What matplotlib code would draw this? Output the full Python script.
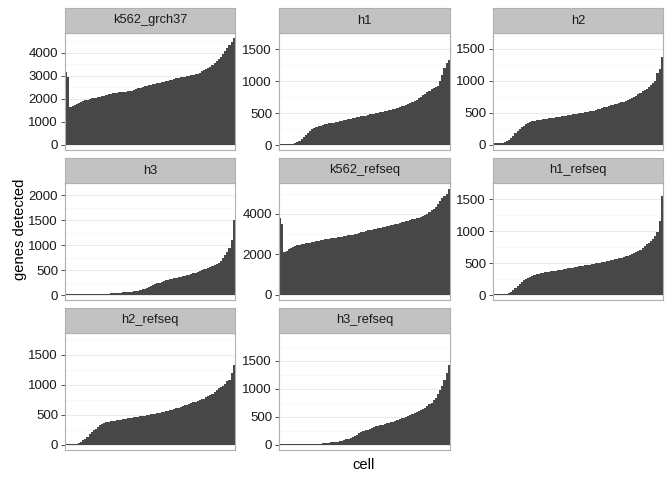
import matplotlib
matplotlib.use('Agg')
import matplotlib.pyplot as plt
import numpy as np

plt.rcParams['font.family'] = ['Liberation Sans', 'DejaVu Sans']

# genes detected per cell, sorted, one list per sample
k562_grch37 = [3150, 2950, 1650, 1680, 1720, 1780, 1820, 1850, 1880, 1920, 1960, 1990, 2010, 2030, 2040, 2060,
               2080, 2100, 2120, 2150, 2180, 2200, 2230, 2250, 2260, 2270, 2280, 2290, 2300, 2310, 2320, 2340,
               2360, 2400, 2440, 2480, 2510, 2540, 2560, 2590, 2610, 2630, 2650, 2680, 2700, 2720, 2740, 2760,
               2780, 2800, 2830, 2860, 2880, 2900, 2920, 2940, 2960, 2980, 3000, 3020, 3040, 3060, 3090, 3130,
               3180, 3230, 3280, 3320, 3380, 3450, 3540, 3640, 3720, 3820, 3950, 4050, 4180, 4320, 4450, 4620]
h1 = [15, 15, 18, 20, 20, 22, 25, 30, 45, 70, 100, 130, 160, 190, 220, 245, 265, 280, 295, 305,
      315, 322, 330, 338, 345, 352, 360, 368, 375, 382, 390, 398, 405, 412, 418, 425, 432, 440, 447, 455,
      462, 470, 478, 485, 492, 500, 508, 515, 522, 530, 538, 545, 552, 560, 570, 580, 592, 605, 618, 632,
      645, 660, 675, 690, 710, 730, 752, 775, 800, 825, 850, 870, 885, 900, 930, 1000, 1100, 1200, 1280, 1330]
h2 = [20, 22, 25, 28, 30, 40, 55, 75, 100, 140, 180, 215, 250, 280, 300, 320, 340, 355, 365, 372,
      380, 388, 395, 400, 405, 410, 415, 420, 425, 430, 435, 440, 445, 450, 455, 462, 468, 474, 480, 486,
      492, 498, 504, 510, 516, 522, 528, 535, 545, 555, 565, 575, 585, 595, 605, 615, 625, 635, 645, 655,
      665, 675, 690, 705, 720, 735, 750, 770, 790, 810, 835, 860, 880, 900, 930, 960, 1000, 1130, 1180, 1380]
h3 = [12, 12, 12, 13, 13, 14, 14, 14, 15, 15, 16, 16, 17, 18, 19, 20, 21, 22, 24, 26,
      28, 31, 34, 37, 40, 44, 48, 52, 56, 60, 65, 70, 76, 82, 90, 100, 115, 130, 150, 170,
      190, 205, 220, 235, 250, 265, 280, 295, 305, 315, 325, 335, 345, 355, 365, 375, 385, 395, 405, 420,
      435, 450, 465, 480, 500, 515, 530, 545, 560, 580, 600, 625, 650, 690, 740, 800, 870, 950, 1100, 1500]
k562_refseq = [3800, 3500, 2100, 2150, 2250, 2300, 2350, 2400, 2440, 2480, 2500, 2520, 2540, 2560, 2580, 2600,
               2620, 2650, 2680, 2700, 2720, 2740, 2760, 2780, 2800, 2810, 2820, 2840, 2860, 2880, 2900, 2920,
               2940, 2960, 2980, 3000, 3030, 3060, 3090, 3120, 3150, 3180, 3200, 3220, 3240, 3260, 3280, 3300,
               3330, 3360, 3390, 3420, 3440, 3460, 3490, 3520, 3550, 3580, 3610, 3640, 3670, 3700, 3730, 3760,
               3790, 3820, 3860, 3900, 3960, 4020, 4100, 4180, 4260, 4350, 4500, 4650, 4800, 4900, 5000, 5250]
h1_refseq = [10, 10, 11, 12, 12, 14, 17, 25, 45, 75, 110, 140, 170, 200, 230, 255, 270, 285, 300, 315,
             325, 335, 342, 350, 355, 360, 365, 370, 375, 380, 386, 392, 398, 404, 410, 416, 422, 428, 434, 440,
             446, 452, 458, 464, 470, 476, 482, 488, 494, 500, 506, 512, 518, 525, 532, 540, 548, 556, 565, 575,
             585, 595, 605, 615, 628, 640, 655, 670, 690, 710, 735, 760, 790, 820, 850, 880, 920, 980, 1150, 1550]
h2_refseq = [10, 10, 11, 12, 14, 17, 25, 45, 70, 100, 135, 170, 205, 240, 270, 300, 330, 350, 362, 372,
             380, 388, 395, 402, 408, 414, 420, 426, 432, 438, 444, 450, 456, 462, 468, 474, 480, 486, 492, 498,
             504, 510, 516, 522, 530, 538, 546, 555, 565, 575, 585, 595, 605, 615, 625, 640, 655, 670, 685, 695,
             705, 715, 725, 740, 755, 770, 790, 810, 830, 850, 880, 910, 940, 960, 980, 1020, 1060, 1080, 1200, 1330]
h3_refseq = [10, 10, 10, 10, 11, 11, 11, 12, 12, 12, 13, 13, 14, 14, 15, 15, 16, 17, 18, 19,
             22, 26, 30, 35, 40, 45, 50, 55, 62, 70, 80, 95, 110, 125, 140, 160, 180, 200, 220, 240,
             255, 270, 285, 300, 315, 330, 340, 350, 360, 370, 380, 390, 400, 410, 425, 440, 455, 470, 485, 500,
             515, 530, 545, 560, 580, 600, 620, 640, 660, 690, 720, 750, 790, 840, 900, 970, 1050, 1150, 1280, 1420]

samples = ['k562_grch37', 'h1', 'h2', 'h3', 'k562_refseq', 'h1_refseq', 'h2_refseq', 'h3_refseq']
values = [k562_grch37, h1, h2, h3, k562_refseq, h1_refseq, h2_refseq, h3_refseq]
ymax = [4850, 1600, 1737, 2100, 5531, 1636, 1864, 1996]
yticks = [[0, 1000, 2000, 3000, 4000], [0, 500, 1000, 1500], [0, 500, 1000, 1500],
          [0, 500, 1000, 1500, 2000], [0, 2000, 4000], [0, 500, 1000, 1500],
          [0, 500, 1000, 1500], [0, 500, 1000, 1500]]

W, H = 672, 480
fig = plt.figure(figsize=(W / 100, H / 100), dpi=100)

cols = [(65, 235), (279, 450), (493, 663)]
rows = [(8, 33, 150), (158, 183, 300), (308, 333, 450)]

def fx(px):
    return px / W

def fy(py):
    return 1 - py / H

for i, (name, vals) in enumerate(zip(samples, values)):
    r, c = divmod(i, 3)
    x0, x1 = cols[c]
    st, sb, pb = rows[r]
    ax = fig.add_axes([fx(x0), fy(pb), fx(x1 - x0), (pb - sb) / H])
    sax = fig.add_axes([fx(x0), fy(sb), fx(x1 - x0), (sb - st) / H])

    top = ymax[i]
    m = top / 1.05
    ax.set_ylim(-0.05 * m, top)
    n = len(vals)
    ax.set_xlim(0.4, n + 0.6)
    ax.bar(np.arange(1, n + 1), vals, width=1.0, color='#474747', linewidth=0)

    ticks = yticks[i]
    ax.set_yticks(ticks)
    ax.set_yticklabels([str(t) for t in ticks], fontsize=9.5, color='#1a1a1a')
    step = ticks[1] - ticks[0]
    minors = [t + step / 2 for t in ticks[:-1]] + [ticks[-1] + step / 2]
    ax.set_yticks(minors, minor=True)
    ax.tick_params(axis='y', which='major', length=3, width=0.6, color='#333333', pad=2)
    ax.tick_params(axis='y', which='minor', length=0)
    ax.set_xticks([])
    ax.set_axisbelow(True)
    ax.grid(axis='y', which='major', color='#EBEBEB', linewidth=0.7)
    ax.grid(axis='y', which='minor', color='#F5F5F5', linewidth=0.5)
    for s in ax.spines.values():
        s.set_color('#B0B0B0')
        s.set_linewidth(0.8)

    sax.set_facecolor('#C2C2C2')
    sax.set_xticks([])
    sax.set_yticks([])
    for s in sax.spines.values():
        s.set_color('#B0B0B0')
        s.set_linewidth(0.8)
    sax.text(0.5, 0.5, name, ha='center', va='center', fontsize=9.3, color='#1a1a1a',
             transform=sax.transAxes)

fig.text(fx(20), fy(229), 'genes detected', rotation=90, ha='center', va='center', fontsize=10.6)
fig.text(fx(364), fy(465), 'cell', ha='center', va='center', fontsize=10.6)

fig.savefig('out.png', dpi=100)
